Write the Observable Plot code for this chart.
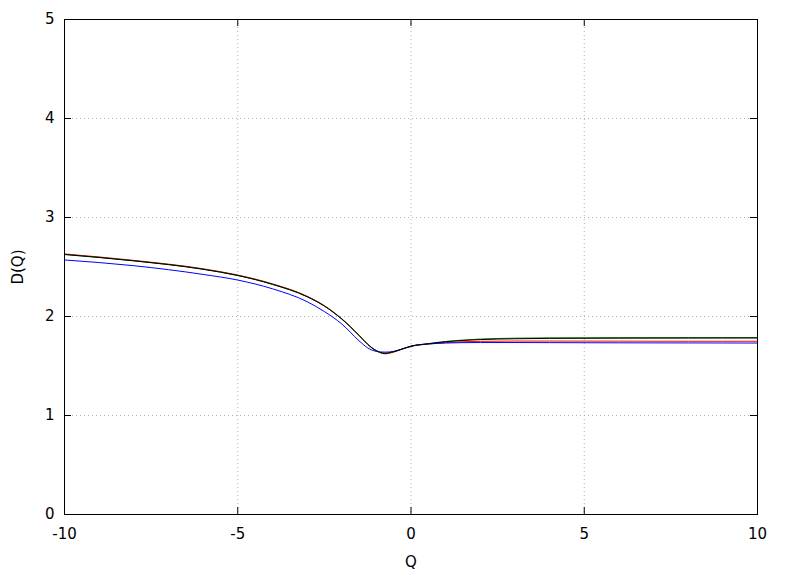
<!DOCTYPE html>
<html>
<head>
<meta charset="utf-8">
<script src="https://cdn.jsdelivr.net/npm/d3@7"></script>
<script src="https://cdn.jsdelivr.net/npm/@observablehq/plot@0.6"></script>
<style>
  html, body { margin: 0; padding: 0; background: #fff; }
  svg { display: block; }
</style>
</head>
<body>
<div id="chart"></div>
<script>
const qValues = [-10, -8, -6, -5, -4, -3, -2.5, -2, -1.5, -1.25, -1, -0.75, -0.5, -0.25, 0, 0.5, 1, 1.5, 2, 3, 4, 6, 8, 10];

const redValues   = [2.632, 2.567, 2.482, 2.419, 2.330, 2.205, 2.110, 1.978, 1.810, 1.718, 1.652, 1.623, 1.640, 1.670, 1.698, 1.722, 1.737, 1.745, 1.749, 1.752, 1.752, 1.751, 1.750, 1.750];
const greenValues = [2.628, 2.563, 2.478, 2.415, 2.326, 2.201, 2.106, 1.975, 1.808, 1.718, 1.655, 1.628, 1.644, 1.672, 1.700, 1.726, 1.748, 1.762, 1.772, 1.781, 1.784, 1.786, 1.787, 1.787];
const blueValues  = [2.571, 2.513, 2.425, 2.368, 2.280, 2.150, 2.050, 1.925, 1.755, 1.683, 1.648, 1.640, 1.648, 1.672, 1.700, 1.722, 1.732, 1.736, 1.737, 1.737, 1.736, 1.734, 1.733, 1.732];
const blackValues = [2.626, 2.562, 2.477, 2.414, 2.325, 2.200, 2.105, 1.975, 1.810, 1.720, 1.655, 1.628, 1.645, 1.673, 1.700, 1.725, 1.745, 1.758, 1.767, 1.775, 1.779, 1.781, 1.782, 1.783];

const seriesNames = ["red", "green", "blue", "black"];
const seriesColors = ["#ff0000", "#00a000", "#0000ff", "#000000"];
const seriesValues = [redValues, greenValues, blueValues, blackValues];

const xTicks = [-10, -5, 0, 5, 10];
const yTicks = [0, 1, 2, 3, 4, 5];

const rows = [];
seriesNames.forEach((name, i) => {
  qValues.forEach((q, j) => rows.push({series: name, q, d: seriesValues[i][j]}));
});

const font = "DejaVu Sans, sans-serif";

const chart = Plot.plot({
  width: 788,
  height: 576,
  marginLeft: 64,
  marginRight: 31,
  marginTop: 19,
  marginBottom: 62,
  style: {fontFamily: font, fontSize: "15px", background: "#fff", color: "#000"},
  x: {domain: [-10, 10], label: null},
  y: {domain: [0, 5], label: null},
  color: {domain: seriesNames, range: seriesColors},
  marks: [
    Plot.gridX(xTicks, {stroke: "#b0b0b0", strokeOpacity: 1, strokeDasharray: "1,3"}),
    Plot.gridY(yTicks, {stroke: "#b0b0b0", strokeOpacity: 1, strokeDasharray: "1,3"}),
    Plot.tickX(xTicks, {x: d => d, stroke: "#000", insetTop: 488}),
    Plot.tickX(xTicks, {x: d => d, stroke: "#000", insetBottom: 488}),
    Plot.tickY(yTicks, {y: d => d, stroke: "#000", insetRight: 686}),
    Plot.tickY(yTicks, {y: d => d, stroke: "#000", insetLeft: 686}),
    Plot.axisX({ticks: xTicks, tickSize: 0, tickPadding: 14, fontSize: 15, tickFormat: d => String(d), label: "Q", labelAnchor: "center", labelArrow: "none", labelOffset: 52}),
    Plot.axisY({ticks: yTicks, tickSize: 0, tickPadding: 10, fontSize: 15, tickFormat: d => String(d), label: "D(Q)", labelAnchor: "center", labelArrow: "none", labelOffset: 52}),
    Plot.line(rows, {x: "q", y: "d", z: "series", stroke: "series", strokeWidth: 1, curve: "monotone-x"}),
    Plot.frame({stroke: "#000"})
  ]
});

document.getElementById("chart").appendChild(chart);
</script>
</body>
</html>
